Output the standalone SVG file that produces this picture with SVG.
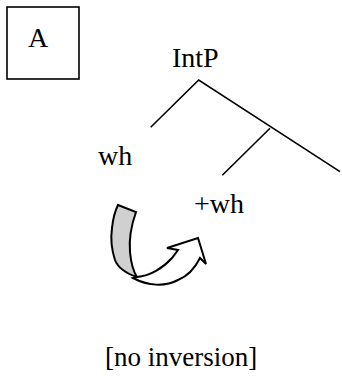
<svg xmlns="http://www.w3.org/2000/svg" width="342" height="381" viewBox="0 0 342 381">
<style>
text{font-family:"Liberation Serif","Times New Roman",serif;font-size:28px;fill:#000}
.ln{stroke:#000;stroke-width:1.6;fill:none}
.sh{stroke:#000;stroke-width:2;stroke-linejoin:miter}
</style>
<rect width="342" height="381" fill="#fff"/>
<g id="boxA">
<rect x="7" y="7" width="72" height="72" fill="#fff" stroke="#000" stroke-width="1.6"/>
<text x="38" y="47" text-anchor="middle">A</text>
</g>
<g id="IntP"><text x="172" y="67">IntP</text></g>
<g id="wh"><text x="98" y="165">wh</text></g>
<g id="pluswh"><text x="194" y="213">+wh</text></g>
<g id="label"><text x="105" y="366" style="font-size:27px">[no inversion]</text></g>
<g id="connectors">
<path class="ln" d="M150.7,127.3 L198.7,80 L340,171.7"/>
<path class="ln" d="M270,128.3 L222.3,175.3"/>
</g>
<g id="arrow">
<path class="sh" fill="#d0d0d0" d="M118,205 L136,212 C131,226 129,240 130,252 C131,263 133,271 137,277 C125,273 118,268 115,260 C111,248 111,235 112,228 C113,219 115,211 118,205 Z"/>
<path class="sh" fill="#fff" d="M137,277 C150,276 163,268 172,258 L178,250 L167,248 L198,238 L206,264 L200,258 C195,268 188,276 178,280 C165,287 148,286 133,278 Z"/>
</g>
</svg>
